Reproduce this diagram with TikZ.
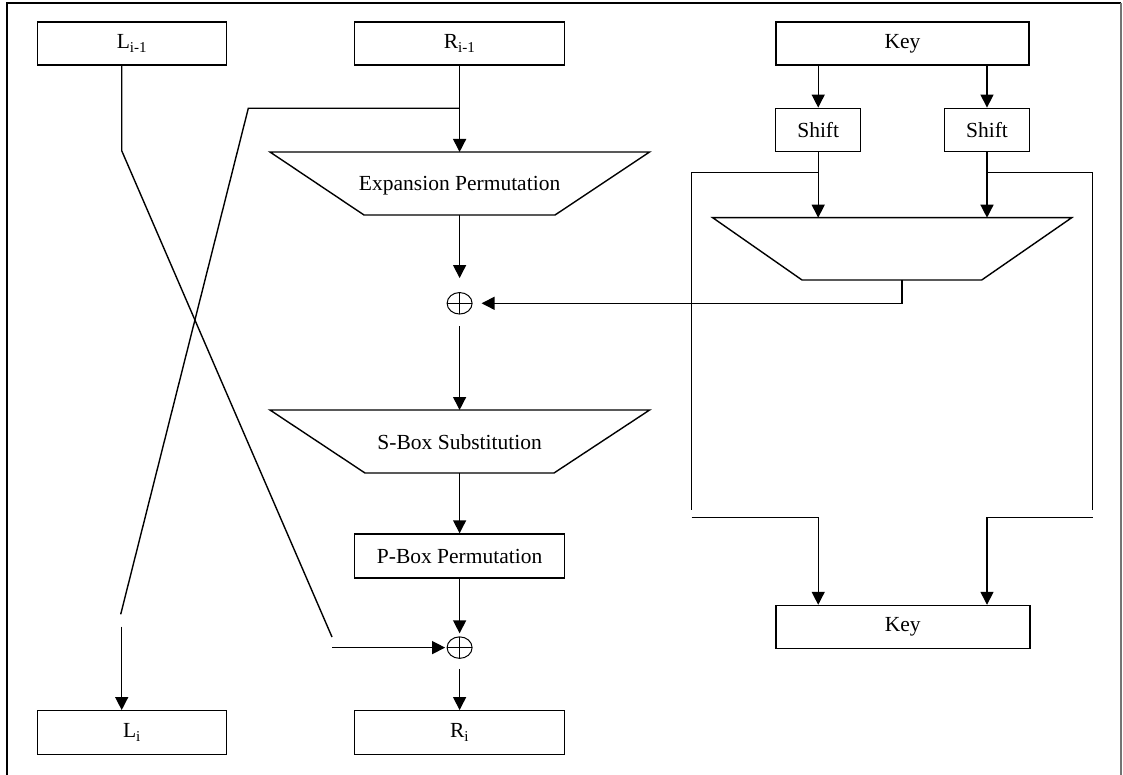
\documentclass[tikz,border=0pt]{standalone}
\usepackage{fontspec}
\setmainfont{Liberation Serif}
\usetikzlibrary{arrows.meta,shapes.geometric,calc}
\begin{document}
\begin{tikzpicture}[x=1pt,y=-1pt,
  font=\fontsize{21.5}{25}\selectfont,
  line width=1.4pt,
  blk/.style={draw, rectangle, inner sep=0pt, minimum height=43pt},
  arr/.style={-{Triangle[length=13pt,width=13pt]}},
  xorop/.style={ellipse, draw, line width=1pt, minimum width=25pt,
    minimum height=21.5pt, inner sep=0pt,
    path picture={\draw[line width=1pt]
      (path picture bounding box.north) -- (path picture bounding box.south)
      (path picture bounding box.west) -- (path picture bounding box.east);}},
  frameline/.style={line width=1.6pt},
]
\useasboundingbox (0,0) rectangle (1123,775);

% page frame
\draw[frameline] (7,775) -- (7,3) -- (1121,3);
\draw[line width=1.8pt, black!55] (1121,3) -- (1121,775);

% data halves
\node[blk, minimum width=189pt] (Lprev) at (132,43.5) {L\textsubscript{i-1}};
\node[blk, minimum width=210pt] (Rprev) at (459.6,43.5) {R\textsubscript{i-1}};
\node[blk, minimum width=189pt, minimum height=43.5pt] (Li) at (132,732.5) {L\textsubscript{i}};
\node[blk, minimum width=210pt, minimum height=43.5pt] (Ri) at (459.6,732.5) {R\textsubscript{i}};

% round function
\draw (270,152) -- (649.6,152) -- (555,215) -- (364,215) -- cycle;
\coordinate (exTop) at (459.6,152);
\coordinate (exBot) at (459.6,215);
\node (exLbl) at (459.6,186) {Expansion Permutation};

\node[xorop] (x1) at (459.6,303.3) {};

\draw (270,410) -- (649.6,410) -- (554,473) -- (365,473) -- cycle;
\coordinate (sTop) at (459.6,410);
\coordinate (sBot) at (459.6,473);
\node (sLbl) at (459.6,442) {S-Box Substitution};

\node[blk, minimum width=210pt, minimum height=44pt] (PBox) at (459.6,556) {P-Box Permutation};
\node[xorop] (x2) at (459.6,647.6) {};

% key schedule
\node[blk, minimum width=253pt] (Ktop) at (902.5,43.5) {Key};
\node[blk, minimum width=85pt, minimum height=43.4pt] (ShL) at (818.2,130) {Shift};
\node[blk, minimum width=85pt, minimum height=43.4pt] (ShR) at (987,130) {Shift};
\draw (712.7,217.7) -- (1071.7,217.7) -- (981.7,280) -- (802,280) -- cycle;
\coordinate (kTopL) at (818.2,217.7);
\coordinate (kTopR) at (987,217.7);
\coordinate (kBot) at (902,280);
\coordinate (kTurn) at (902,303.3);
\node[blk, minimum width=254pt] (Kbot) at (902.8,627) {Key};

% connectors: right half path
\draw[arr] (Rprev.south) -- (exTop);
\draw[arr, shorten >=14pt] (exBot) -- (x1.north);
\draw[arr, shorten <=11.5pt] (x1.south) -- (sTop);
\draw[arr] (sBot) -- (PBox.north);
\draw[arr, shorten >=3pt] (PBox.south) -- (x2.north);
\draw[arr, shorten <=10pt] (x2.south) -- (Ri.north);

% subkey into the first XOR
\draw[arr, shorten >=9pt] (kBot) -- (kTurn) -- (x1.east);

% swap of the halves
\coordinate (rSplit) at (459.6,108.3);
\coordinate (rBend) at (248.3,108.3);
\coordinate (rEnd) at (120.7,614.3);
\coordinate (liStart) at (121.7,626.7);
\draw (rSplit) -- (rBend) -- (rEnd);
\draw[arr] (liStart) -- (liStart |- Li.north);

\coordinate (lTop) at (121.7,65);
\coordinate (lBend) at (121.7,150.7);
\coordinate (lEnd) at (332,637);
\coordinate (lFeed) at (332,647.6);
\draw (lTop |- Lprev.south) -- (lBend) -- (lEnd);
\draw[arr, shorten >=1.5pt] (lFeed) -- (x2.west);

% key schedule connectors
\draw[arr] (ShL.north |- Ktop.south) -- (ShL.north);
\draw[arr] (ShR.north |- Ktop.south) -- (ShR.north);
\draw[arr] (ShL.south) -- (kTopL);
\draw[arr] (ShR.south) -- (kTopR);

\coordinate (bypL) at (691.7,172.7);
\coordinate (bypR) at (1092.7,172.7);
\draw (ShL.south |- bypL) -- (bypL) -- (691.7,510);
\draw (ShR.south |- bypR) -- (bypR) -- (1092.7,510);
\coordinate (retL) at (691.7,517.7);
\coordinate (retR) at (1092.7,517.7);
\draw[arr] (retL) -- (ShL.south |- retL) -- (ShL.south |- Kbot.north);
\draw[arr] (retR) -- (ShR.south |- retR) -- (ShR.south |- Kbot.north);
\end{tikzpicture}
\end{document}
